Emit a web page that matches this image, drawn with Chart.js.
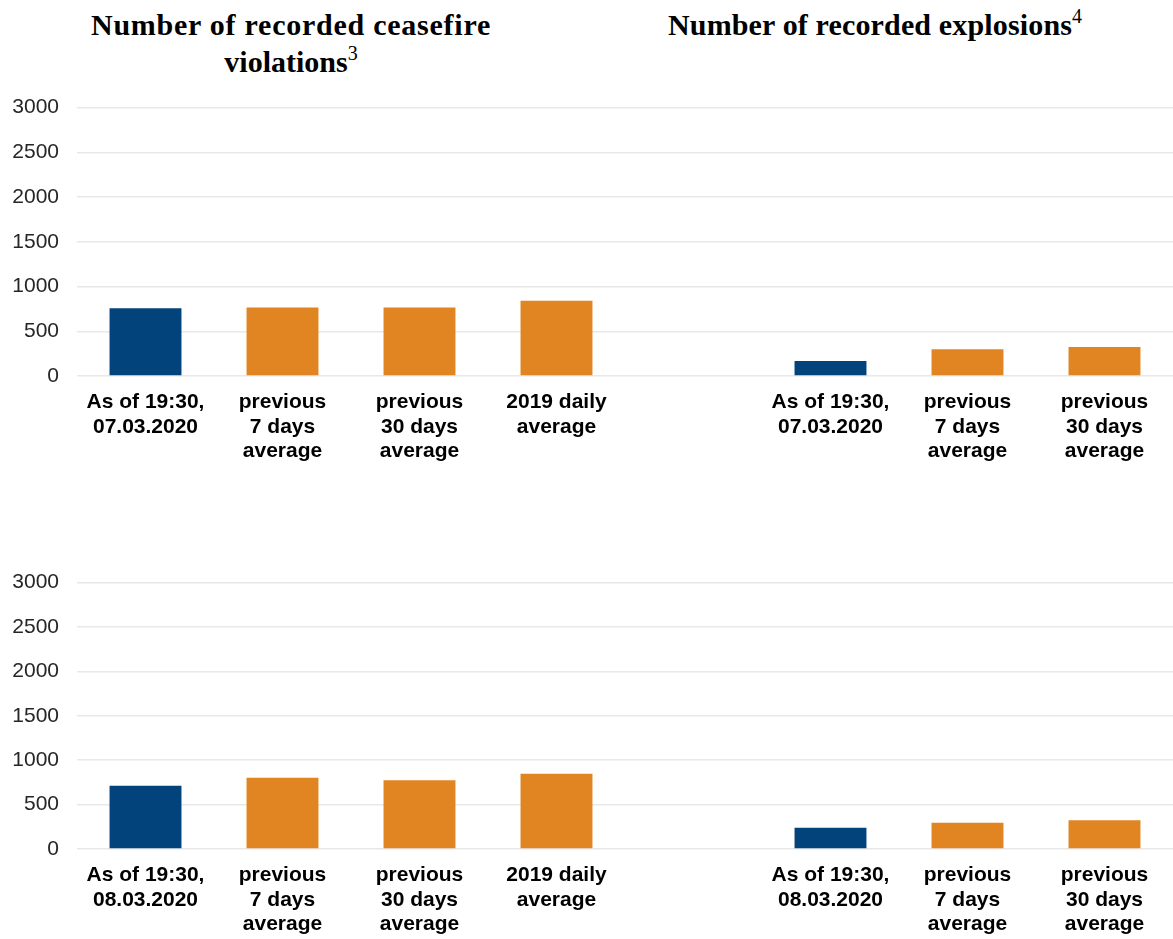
<!DOCTYPE html>
<html>
<head>
<meta charset="utf-8">
<script src="https://cdn.jsdelivr.net/npm/chart.js@4/dist/chart.umd.min.js"></script>
<style>
  html, body { margin: 0; padding: 0; background: #ffffff; overflow: hidden; }
  body { width: 1173px; height: 939px; position: relative; }
  .title { position: absolute; font-family: "Liberation Serif", "Times New Roman", serif; font-weight: bold; font-size: 30px; line-height: 37px; color: #000; text-align: center; white-space: nowrap; }
  .sup { font-weight: normal; font-size: 20px; position: relative; top: -12px; line-height: 0; letter-spacing: 0; }
  .wrap { position: absolute; left: 0; width: 1173px; }
</style>
</head>
<body>
<div class="title" style="left:71px; width:440px; top:6px;"><span style="letter-spacing:0.75px">Number of recorded ceasefire</span><br>violations<span class="sup">3</span></div>
<div class="title" style="left:668px; width:460px; top:6px; text-align:left; letter-spacing:0.15px;">Number of recorded explosions<span class="sup">4</span></div>

<div class="wrap" style="top:77px; height:389px;"><canvas id="row1"></canvas></div>
<div class="wrap" style="top:552px; height:387px;"><canvas id="row2"></canvas></div>

<script>
// ---- Data ----
const cfvCategories0703 = [["As of 19:30,", "07.03.2020"], ["previous", "7 days", "average"], ["previous", "30 days", "average"], ["2019 daily", "average"]];
const explCategories0703 = [["As of 19:30,", "07.03.2020"], ["previous", "7 days", "average"], ["previous", "30 days", "average"]];
const cfvCategories0803 = [["As of 19:30,", "08.03.2020"], ["previous", "7 days", "average"], ["previous", "30 days", "average"], ["2019 daily", "average"]];
const explCategories0803 = [["As of 19:30,", "08.03.2020"], ["previous", "7 days", "average"], ["previous", "30 days", "average"]];

const cfvValues0703 = [758, 766, 766, 840];
const explValues0703 = [167, 298, 323];
const cfvValues0803 = [713, 803, 773, 848];
const explValues0803 = [239, 295, 325];

const yTickValues = [0, 500, 1000, 1500, 2000, 2500, 3000];

// ---- Styles ----
const BLUE = '#03437b';
const ORANGE = '#e08521';
const GRID = '#e8e8e8';

function buildRow(canvasId, cfvCats, cfvVals, explCats, explVals) {
  const labels = [...cfvCats, "", ...explCats];
  const data = [...cfvVals, null, ...explVals];
  const currentIdx = [0, cfvCats.length + 1];
  new Chart(document.getElementById(canvasId), {
    type: 'bar',
    data: {
      labels: labels,
      datasets: [{
        data: data,
        backgroundColor: (ctx) => currentIdx.includes(ctx.dataIndex) ? BLUE : ORANGE,
        borderWidth: 0,
        categoryPercentage: 1,
        barPercentage: 0.525
      }]
    },
    options: {
      responsive: true,
      maintainAspectRatio: false,
      animation: false,
      layout: { padding: { top: 20, right: 0, bottom: 0, left: 0 } },
      plugins: { legend: { display: false }, tooltip: { enabled: false }, title: { display: false } },
      scales: {
        x: {
          grid: { display: false, drawTicks: false },
          border: { display: false },
          ticks: {
            autoSkip: false,
            maxRotation: 0,
            minRotation: 0,
            padding: 14,
            color: '#000000',
            font: { family: '"Liberation Sans", Arial, sans-serif', size: 21, weight: 'bold', lineHeight: 1.17 }
          },
          afterFit: (scale) => { scale.height = 90; }
        },
        y: {
          min: 0,
          max: 3000,
          afterBuildTicks: (scale) => { scale.ticks = yTickValues.map(v => ({ value: v })); },
          grid: { color: GRID, lineWidth: 1.5, drawTicks: false },
          border: { display: false },
          ticks: {
            padding: 18,
            color: '#262626',
            callback: (v) => String(v),
            font: { family: '"Liberation Sans", Arial, sans-serif', size: 21 }
          },
          afterFit: (scale) => { scale.width = 77; }
        }
      }
    }
  });
}

buildRow('row1', cfvCategories0703, cfvValues0703, explCategories0703, explValues0703);
buildRow('row2', cfvCategories0803, cfvValues0803, explCategories0803, explValues0803);
</script>
</body>
</html>
